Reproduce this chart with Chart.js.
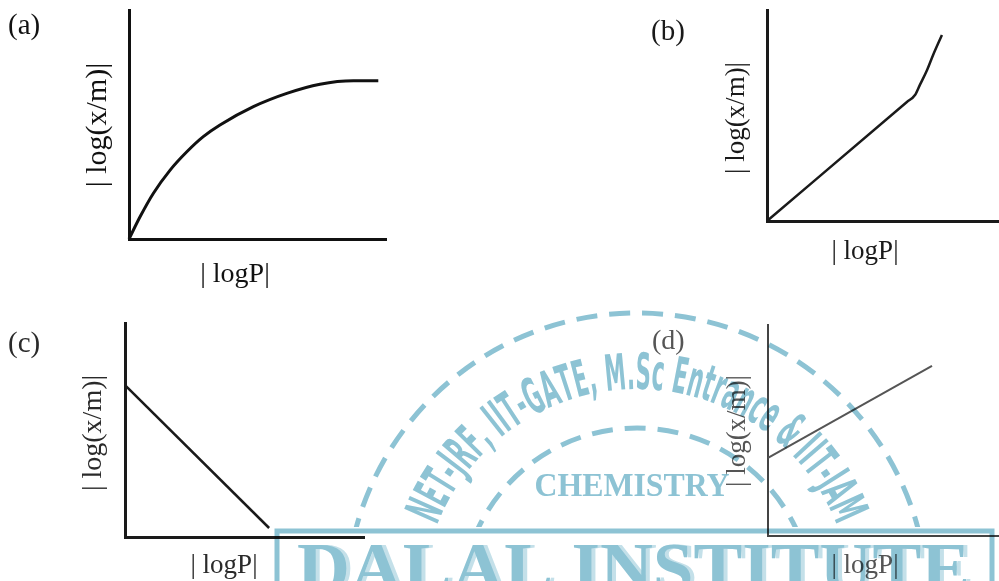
<!DOCTYPE html>
<html>
<head>
<meta charset="utf-8">
<script src="https://cdn.jsdelivr.net/npm/chart.js@4.4.1/dist/chart.umd.min.js"></script>
<style>
  html, body { margin: 0; padding: 0; background: #fff; }
  body { width: 999px; height: 581px; position: relative; overflow: hidden; }
  canvas { position: absolute; }
  #marca { left: 0; top: 0; pointer-events: none; mix-blend-mode: multiply; }
</style>
</head>
<body>
<canvas id="grafico-a" width="400" height="290" style="left:0;top:0"></canvas>
<canvas id="grafico-b" width="399" height="290" style="left:600px;top:0"></canvas>
<canvas id="grafico-c" width="400" height="291" style="left:0;top:290px"></canvas>
<canvas id="grafico-d" width="439" height="291" style="left:560px;top:290px"></canvas>
<canvas id="marca" width="999" height="581"></canvas>

<script>
// valores (escala 0..10 nos dois eixos)
const aLogP  = [0, 0.43, 0.95, 1.6, 2.25, 2.89, 3.54, 4.84, 6.14, 7.43, 8.73, 9.7];
const aLogXM = [0, 0.97, 2.0, 3.01, 3.81, 4.47, 4.98, 5.78, 6.36, 6.76, 6.91, 6.91];

const bLogP  = [0, 6.03, 6.38, 6.59, 6.9, 7.16, 7.54];
const bLogXM = [0, 5.64, 5.97, 6.45, 7.16, 7.87, 8.82];

const cLogP  = [0, 6.03];
const cLogXM = [7.1, 0.42];

const dLogP  = [0, 7.1];
const dLogXM = [3.7, 8.06];

const panelLabels = ['(a)', '(b)', '(c)', '(d)'];
const xTitle = '| logP|';
const yTitle = '| log(x/m)|';

// escreve (a), o título do eixo x e o do eixo y
const textoPainel = {
  id: 'textoPainel',
  afterDraw(chart, args, o) {
    const ctx = chart.ctx;
    ctx.save();
    ctx.fillStyle = o.color;
    ctx.textBaseline = 'middle';

    ctx.font = o.labelSize + 'px "Liberation Serif"';
    ctx.textAlign = 'left';
    ctx.fillText(o.label, o.labelPos[0], o.labelPos[1]);

    ctx.textAlign = 'center';
    ctx.font = o.xSize + 'px "Liberation Serif"';
    ctx.fillText(xTitle, o.xPos[0], o.xPos[1]);

    ctx.font = o.ySize + 'px "Liberation Serif"';
    ctx.translate(o.yPos[0], o.yPos[1]);
    ctx.rotate(-Math.PI / 2);
    ctx.fillText(yTitle, 0, 0);
    ctx.restore();
  }
};

function eixo(cor, largura, horizontal) {
  return {
    type: 'linear', min: 0, max: 10, display: true,
    grid: { display: false },
    ticks: { display: false },
    border: { display: true, color: cor, width: largura },
    afterFit(s) { if (horizontal) s.height = 0; else s.width = 0; }
  };
}

function criarGrafico(id, xs, ys, c) {
  const pontos = xs.map((x, i) => ({ x: x, y: ys[i] }));
  new Chart(document.getElementById(id), {
    type: 'line',
    data: {
      datasets: [{
        data: pontos,
        borderColor: c.lineColor,
        borderWidth: c.lineWidth,
        pointRadius: 0,
        fill: false,
        cubicInterpolationMode: c.monotone ? 'monotone' : 'default',
        tension: 0,
        clip: false
      }]
    },
    options: {
      responsive: false,
      animation: false,
      layout: { autoPadding: false, padding: c.padding },
      scales: {
        x: eixo(c.axisColor, c.axisWidth, true),
        y: eixo(c.axisColor, c.axisWidth, false)
      },
      plugins: {
        legend: { display: false },
        tooltip: { enabled: false },
        textoPainel: c.text
      }
    },
    plugins: [textoPainel]
  });
}

criarGrafico('grafico-a', aLogP, aLogXM, {
  lineColor: '#111', lineWidth: 3, axisColor: '#111', axisWidth: 3, monotone: true,
  padding: { left: 129, top: 10, right: 14, bottom: 51 },
  text: { color: '#111', label: panelLabels[0], labelSize: 29, labelPos: [8, 26],
          xSize: 28, xPos: [235, 275], ySize: 30, yPos: [98, 125] }
});

criarGrafico('grafico-b', bLogP, bLogXM, {
  lineColor: '#1a1a1a', lineWidth: 2.5, axisColor: '#1a1a1a', axisWidth: 3, monotone: true,
  padding: { left: 167, top: 10, right: 0, bottom: 69 },
  text: { color: '#1a1a1a', label: panelLabels[1], labelSize: 29, labelPos: [51, 32],
          xSize: 27, xPos: [265, 252], ySize: 27, yPos: [137, 118] }
});

criarGrafico('grafico-c', cLogP, cLogXM, {
  lineColor: '#1a1a1a', lineWidth: 2.5, axisColor: '#1a1a1a', axisWidth: 3, monotone: false,
  padding: { left: 125, top: 33, right: 36, bottom: 44 },
  text: { color: '#2a2a2a', label: panelLabels[2], labelSize: 29, labelPos: [8, 54],
          xSize: 27, xPos: [224, 276], ySize: 28, yPos: [94, 143] }
});

criarGrafico('grafico-d', dLogP, dLogXM, {
  lineColor: '#555', lineWidth: 2, axisColor: '#444', axisWidth: 2, monotone: false,
  padding: { left: 208, top: 35, right: 0, bottom: 45 },
  text: { color: '#555', label: panelLabels[3], labelSize: 28, labelPos: [92, 52],
          xSize: 27, xPos: [305, 276], ySize: 27, yPos: [178, 141] }
});

// marca d'água do instituto por cima dos gráficos
function desenharMarca() {
  const ctx = document.getElementById('marca').getContext('2d');
  const cor = '#8dc3d4';
  const cx = 637, cy = 604;

  // arcos tracejados, cortados na borda da caixa
  ctx.save();
  ctx.beginPath();
  ctx.rect(0, 0, 999, 527);
  ctx.clip();
  ctx.strokeStyle = cor;
  ctx.lineWidth = 5;
  ctx.setLineDash([21, 12]);
  ctx.beginPath(); ctx.arc(cx, cy, 291, Math.PI, 2 * Math.PI); ctx.stroke();
  ctx.beginPath(); ctx.arc(cx, cy, 176, Math.PI, 2 * Math.PI); ctx.stroke();
  ctx.restore();

  // texto em arco
  const texto = 'NET-JRF, IIT-GATE, M.Sc Entrance & IIT-JAM';
  ctx.save();
  ctx.fillStyle = cor;
  ctx.font = 'bold 50px "DejaVu Sans"';
  const letras = [...texto];
  const larguras = letras.map(ch => ctx.measureText(ch).width);
  const total = larguras.reduce((s, w) => s + w, 0);
  const rBase = 215;
  const arco = (137 / 180) * Math.PI * rBase;
  const esc = arco / total;
  let ang = -arco / 2 / rBase;
  ctx.textAlign = 'center';
  ctx.textBaseline = 'alphabetic';
  letras.forEach((ch, i) => {
    const w = larguras[i] * esc;
    const a = ang + w / 2 / rBase;
    ctx.save();
    ctx.translate(cx + rBase * Math.sin(a), cy - rBase * Math.cos(a));
    ctx.rotate(a);
    ctx.scale(esc, 1);
    ctx.fillText(ch, 0, 0);
    ctx.restore();
    ang += w / rBase;
  });
  ctx.restore();

  // CHEMISTRY
  ctx.save();
  ctx.fillStyle = cor;
  ctx.font = 'bold 34px "Liberation Serif"';
  const wc = ctx.measureText('CHEMISTRY').width;
  ctx.translate(632, 496);
  ctx.scale(195 / wc, 1);
  ctx.textAlign = 'center';
  ctx.fillText('CHEMISTRY', 0, 0);
  ctx.restore();

  // caixa e nome
  ctx.save();
  ctx.strokeStyle = cor;
  ctx.lineWidth = 5;
  ctx.setLineDash([]);
  ctx.strokeRect(277, 531, 715, 80);
  ctx.font = 'bold 72px "Liberation Serif"';
  const nome = 'DALAL INSTITUTE';
  const wn = ctx.measureText(nome).width;
  ctx.translate(297, 592);
  ctx.scale(673 / wn, 1);
  ctx.fillStyle = '#c4e0e9';
  ctx.fillText(nome, 4, 0);
  ctx.fillStyle = cor;
  ctx.fillText(nome, 0, 0);
  ctx.restore();
}

desenharMarca();
</script>
</body>
</html>
